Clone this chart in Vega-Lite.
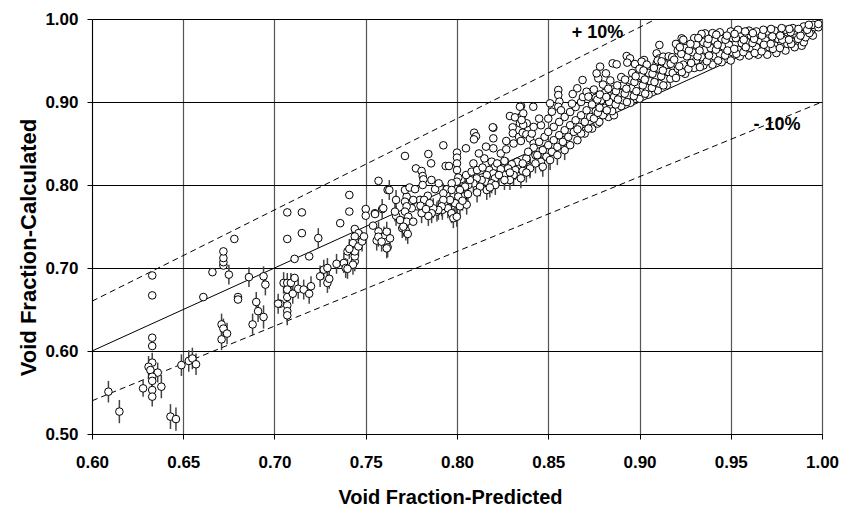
{
"$schema": "https://vega.github.io/schema/vega-lite/v6.json",
"width": 730, "height": 415,
"autosize": {"type": "none"},
"padding": {"left": 92, "top": 19, "right": 20, "bottom": 72},
"background": "white",
"config": {"view": {"stroke": null}, "font": "Liberation Sans"},
"datasets": {
"lines": [
{"g":"eq","x":0.6,"y":0.6},{"g":"eq","x":1.0,"y":1.0},
{"g":"up","x":0.6,"y":0.66},{"g":"up","x":0.9091,"y":1.0},
{"g":"dn","x":0.6,"y":0.54},{"g":"dn","x":1.0,"y":0.9}
],
"labels": [
{"x":0.877,"y":0.983,"t":"+ 10%"},
{"x":0.9753,"y":0.8723,"t":"- 10%"}
],
"pts": [
{"x":0.609,"y":0.551,"e":0.013},{"x":0.615,"y":0.527,"e":0.014},{"x":0.633,"y":0.691,"e":0},{"x":0.633,"y":0.667,"e":0},
{"x":0.633,"y":0.616,"e":0},{"x":0.633,"y":0.606,"e":0},{"x":0.633,"y":0.586,"e":0.012},{"x":0.631,"y":0.581,"e":0.013},
{"x":0.632,"y":0.577,"e":0.012},{"x":0.636,"y":0.574,"e":0.012},{"x":0.633,"y":0.569,"e":0.012},{"x":0.633,"y":0.564,"e":0.012},
{"x":0.633,"y":0.553,"e":0.012},{"x":0.633,"y":0.545,"e":0.012},{"x":0.628,"y":0.555,"e":0.01},{"x":0.638,"y":0.557,"e":0.014},
{"x":0.643,"y":0.521,"e":0.015},{"x":0.646,"y":0.518,"e":0.014},{"x":0.649,"y":0.583,"e":0.013},{"x":0.653,"y":0.588,"e":0.013},
{"x":0.655,"y":0.591,"e":0.013},{"x":0.657,"y":0.584,"e":0.013},{"x":0.661,"y":0.665,"e":0},{"x":0.666,"y":0.695,"e":0},
{"x":0.672,"y":0.703,"e":0},{"x":0.672,"y":0.707,"e":0},{"x":0.672,"y":0.712,"e":0},{"x":0.672,"y":0.72,"e":0},
{"x":0.675,"y":0.692,"e":0.012},{"x":0.68,"y":0.665,"e":0},{"x":0.68,"y":0.662,"e":0},{"x":0.671,"y":0.632,"e":0.013},
{"x":0.672,"y":0.627,"e":0.012},{"x":0.671,"y":0.614,"e":0.013},{"x":0.674,"y":0.621,"e":0.013},{"x":0.686,"y":0.689,"e":0.012},
{"x":0.694,"y":0.69,"e":0.012},{"x":0.695,"y":0.68,"e":0.013},{"x":0.69,"y":0.659,"e":0.012},{"x":0.691,"y":0.648,"e":0.013},
{"x":0.688,"y":0.632,"e":0.013},{"x":0.694,"y":0.641,"e":0.014},{"x":0.703,"y":0.657,"e":0},{"x":0.705,"y":0.682,"e":0.013},
{"x":0.707,"y":0.682,"e":0.012},{"x":0.709,"y":0.682,"e":0.012},{"x":0.707,"y":0.665,"e":0.012},{"x":0.707,"y":0.655,"e":0.012},
{"x":0.707,"y":0.648,"e":0.012},{"x":0.707,"y":0.643,"e":0.012},{"x":0.707,"y":0.674,"e":0.012},{"x":0.711,"y":0.688,"e":0},
{"x":0.71,"y":0.669,"e":0.012},{"x":0.713,"y":0.675,"e":0.012},{"x":0.716,"y":0.674,"e":0.012},{"x":0.719,"y":0.669,"e":0.012},
{"x":0.72,"y":0.678,"e":0.012},{"x":0.711,"y":0.711,"e":0},{"x":0.719,"y":0.714,"e":0},{"x":0.725,"y":0.69,"e":0.013},
{"x":0.727,"y":0.698,"e":0.012},{"x":0.729,"y":0.682,"e":0.012},{"x":0.729,"y":0.7,"e":0.012},{"x":0.73,"y":0.687,"e":0.012},
{"x":0.734,"y":0.705,"e":0.012},{"x":0.738,"y":0.706,"e":0.012},{"x":0.739,"y":0.7,"e":0.012},{"x":0.74,"y":0.72,"e":0},
{"x":0.744,"y":0.708,"e":0.012},{"x":0.744,"y":0.714,"e":0},{"x":0.744,"y":0.72,"e":0},{"x":0.743,"y":0.704,"e":0.012},
{"x":0.678,"y":0.735,"e":0},{"x":0.707,"y":0.767,"e":0},{"x":0.715,"y":0.767,"e":0},{"x":0.707,"y":0.735,"e":0},
{"x":0.715,"y":0.742,"e":0},{"x":0.724,"y":0.736,"e":0.012},{"x":0.741,"y":0.788,"e":0},{"x":0.741,"y":0.768,"e":0},
{"x":0.736,"y":0.754,"e":0},{"x":0.75,"y":0.771,"e":0},{"x":0.75,"y":0.763,"e":0},{"x":0.757,"y":0.805,"e":0},
{"x":0.762,"y":0.794,"e":0},{"x":0.755,"y":0.766,"e":0},{"x":0.759,"y":0.771,"e":0.012},{"x":0.754,"y":0.751,"e":0},
{"x":0.744,"y":0.747,"e":0},{"x":0.746,"y":0.742,"e":0},{"x":0.744,"y":0.738,"e":0},{"x":0.743,"y":0.73,"e":0.012},
{"x":0.741,"y":0.723,"e":0.012},{"x":0.746,"y":0.726,"e":0.012},{"x":0.748,"y":0.732,"e":0.012},{"x":0.749,"y":0.738,"e":0},
{"x":0.74,"y":0.699,"e":0.012},{"x":0.702,"y":0.657,"e":0.012},{"x":0.757,"y":0.744,"e":0.012},{"x":0.76,"y":0.738,"e":0.012},
{"x":0.761,"y":0.731,"e":0.012},{"x":0.756,"y":0.733,"e":0.012},{"x":0.762,"y":0.725,"e":0.012},{"x":0.7569,"y":0.7377,"e":0.012},
{"x":0.7587,"y":0.7317,"e":0.012},{"x":0.7615,"y":0.7237,"e":0.012},{"x":0.7615,"y":0.7438,"e":0.012},{"x":0.7633,"y":0.7357,"e":0.012},
{"x":0.7551,"y":0.765,"e":0},{"x":0.7666,"y":0.763,"e":0.012},{"x":0.7629,"y":0.794,"e":0.012},{"x":0.7666,"y":0.782,"e":0.012},
{"x":0.77,"y":0.748,"e":0.012},{"x":0.772,"y":0.745,"e":0.012},{"x":0.773,"y":0.741,"e":0.012},{"x":0.785,"y":0.772,"e":0.012},
{"x":0.789,"y":0.768,"e":0.012},{"x":0.792,"y":0.77,"e":0.012},{"x":0.795,"y":0.772,"e":0.012},{"x":0.797,"y":0.766,"e":0.012},
{"x":0.798,"y":0.76,"e":0.012},
{"x":0.7925,"y":0.8478,"e":0},{"x":0.8049,"y":0.8442,"e":0},{"x":0.7843,"y":0.8373,"e":0},{"x":0.7858,"y":0.8261,"e":0},
{"x":0.7715,"y":0.835,"e":0},{"x":0.7938,"y":0.8229,"e":0},{"x":0.7956,"y":0.8229,"e":0},{"x":0.7775,"y":0.82,"e":0},
{"x":0.7806,"y":0.8169,"e":0},{"x":0.7812,"y":0.8108,"e":0},{"x":0.7816,"y":0.8068,"e":0},{"x":0.7812,"y":0.8,"e":0},
{"x":0.8,"y":0.839,"e":0},{"x":0.8,"y":0.833,"e":0},{"x":0.8,"y":0.826,"e":0},{"x":0.8,"y":0.818,"e":0},
{"x":0.8007,"y":0.809,"e":0},
{"x":0.8159,"y":0.8253,"e":0},{"x":0.819,"y":0.8281,"e":0},{"x":0.8208,"y":0.822,"e":0},{"x":0.8177,"y":0.818,"e":0},
{"x":0.8199,"y":0.814,"e":0},{"x":0.8163,"y":0.812,"e":0},{"x":0.8208,"y":0.808,"e":0.012},{"x":0.8159,"y":0.804,"e":0.012},
{"x":0.819,"y":0.802,"e":0.012},{"x":0.8135,"y":0.806,"e":0},{"x":0.8126,"y":0.798,"e":0.012},{"x":0.8163,"y":0.794,"e":0.012},
{"x":0.8108,"y":0.808,"e":0},{"x":0.809,"y":0.802,"e":0.012},{"x":0.8062,"y":0.8,"e":0.012},{"x":0.8071,"y":0.806,"e":0},
{"x":0.8044,"y":0.798,"e":0.012},{"x":0.8016,"y":0.794,"e":0.012},{"x":0.8035,"y":0.786,"e":0.012},{"x":0.8007,"y":0.786,"e":0.012},
{"x":0.7999,"y":0.804,"e":0},{"x":0.7971,"y":0.802,"e":0},{"x":0.7944,"y":0.7948,"e":0},{"x":0.7925,"y":0.79,"e":0.012},
{"x":0.7971,"y":0.794,"e":0},{"x":0.7989,"y":0.778,"e":0.012},{"x":0.8016,"y":0.7743,"e":0.012},{"x":0.8053,"y":0.7763,"e":0.012},
{"x":0.7962,"y":0.782,"e":0.012},{"x":0.7925,"y":0.782,"e":0.012},{"x":0.7916,"y":0.7743,"e":0.012},{"x":0.7898,"y":0.7699,"e":0.012},
{"x":0.787,"y":0.772,"e":0.012},{"x":0.7861,"y":0.766,"e":0.012},{"x":0.7843,"y":0.7627,"e":0.012},{"x":0.7806,"y":0.766,"e":0.012},
{"x":0.7782,"y":0.7743,"e":0},{"x":0.7797,"y":0.782,"e":0},{"x":0.776,"y":0.782,"e":0},{"x":0.7752,"y":0.772,"e":0},
{"x":0.7724,"y":0.786,"e":0},{"x":0.7715,"y":0.7799,"e":0},{"x":0.7724,"y":0.7743,"e":0},{"x":0.7715,"y":0.7679,"e":0},
{"x":0.7733,"y":0.7618,"e":0.012},{"x":0.7724,"y":0.7558,"e":0.012},{"x":0.7706,"y":0.7498,"e":0.012},{"x":0.7688,"y":0.7578,"e":0},
{"x":0.766,"y":0.7679,"e":0.012},{"x":0.7596,"y":0.772,"e":0},{"x":0.776,"y":0.7558,"e":0},{"x":0.7999,"y":0.7618,"e":0.012},
{"x":0.7715,"y":0.794,"e":0},{"x":0.774,"y":0.797,"e":0},{"x":0.777,"y":0.795,"e":0},{"x":0.784,"y":0.787,"e":0},
{"x":0.782,"y":0.782,"e":0},{"x":0.785,"y":0.778,"e":0.012},{"x":0.78,"y":0.775,"e":0.012},{"x":0.783,"y":0.771,"e":0.012},
{"x":0.788,"y":0.795,"e":0},{"x":0.79,"y":0.802,"e":0},{"x":0.786,"y":0.806,"e":0},
{"x":0.8351,"y":0.8952,"e":0},{"x":0.829,"y":0.8831,"e":0},{"x":0.8318,"y":0.8815,"e":0},{"x":0.8355,"y":0.8831,"e":0},
{"x":0.8382,"y":0.8743,"e":0},{"x":0.8345,"y":0.8743,"e":0},{"x":0.8199,"y":0.869,"e":0},{"x":0.8199,"y":0.8562,"e":0},
{"x":0.8094,"y":0.863,"e":0},{"x":0.8104,"y":0.8587,"e":0},{"x":0.8093,"y":0.855,"e":0},{"x":0.8159,"y":0.8462,"e":0},
{"x":0.8199,"y":0.8442,"e":0},{"x":0.8418,"y":0.8943,"e":0},{"x":0.8363,"y":0.8723,"e":0},{"x":0.8305,"y":0.8695,"e":0},
{"x":0.8306,"y":0.8623,"e":0},{"x":0.8196,"y":0.8695,"e":0},
{"x":0.827,"y":0.853,"e":0},{"x":0.831,"y":0.85,"e":0},{"x":0.834,"y":0.858,"e":0},{"x":0.835,"y":0.853,"e":0},
{"x":0.836,"y":0.863,"e":0},{"x":0.838,"y":0.861,"e":0},{"x":0.84,"y":0.856,"e":0},{"x":0.842,"y":0.85,"e":0},
{"x":0.843,"y":0.836,"e":0},{"x":0.838,"y":0.832,"e":0},{"x":0.833,"y":0.828,"e":0},{"x":0.83,"y":0.825,"e":0},
{"x":0.828,"y":0.82,"e":0.012},{"x":0.832,"y":0.818,"e":0.012},{"x":0.836,"y":0.817,"e":0.012},{"x":0.84,"y":0.822,"e":0.012},
{"x":0.831,"y":0.812,"e":0.012},{"x":0.826,"y":0.812,"e":0.012},{"x":0.835,"y":0.808,"e":0.012},{"x":0.829,"y":0.806,"e":0.012},
{"x":0.805,"y":0.812,"e":0},{"x":0.808,"y":0.816,"e":0},{"x":0.811,"y":0.818,"e":0},{"x":0.814,"y":0.821,"e":0},
{"x":0.822,"y":0.826,"e":0},{"x":0.824,"y":0.819,"e":0},{"x":0.826,"y":0.829,"e":0},{"x":0.823,"y":0.812,"e":0.012},
{"x":0.826,"y":0.806,"e":0.012},{"x":0.821,"y":0.8,"e":0.012},{"x":0.818,"y":0.797,"e":0.012},{"x":0.811,"y":0.791,"e":0.012},
{"x":0.806,"y":0.789,"e":0.012},{"x":0.803,"y":0.781,"e":0.012},{"x":0.829,"y":0.815,"e":0},{"x":0.815,"y":0.832,"e":0},
{"x":0.809,"y":0.826,"e":0},{"x":0.812,"y":0.838,"e":0},{"x":0.824,"y":0.838,"e":0},{"x":0.827,"y":0.843,"e":0},
{"x":0.851,"y":0.8984,"e":0},{"x":0.852,"y":0.8883,"e":0},{"x":0.8555,"y":0.9145,"e":0},{"x":0.8555,"y":0.9084,"e":0},
{"x":0.8561,"y":0.9004,"e":0},{"x":0.8555,"y":0.8943,"e":0},{"x":0.8345,"y":0.8943,"e":0},{"x":0.8363,"y":0.8863,"e":0},
{"x":0.8354,"y":0.8783,"e":0},
{"x":0.842,"y":0.845,"e":0},{"x":0.845,"y":0.852,"e":0},{"x":0.848,"y":0.858,"e":0},{"x":0.85,"y":0.864,"e":0},
{"x":0.853,"y":0.87,"e":0},{"x":0.856,"y":0.876,"e":0},{"x":0.859,"y":0.882,"e":0},{"x":0.862,"y":0.888,"e":0},
{"x":0.865,"y":0.894,"e":0},{"x":0.868,"y":0.9,"e":0},{"x":0.844,"y":0.836,"e":0},{"x":0.847,"y":0.842,"e":0},
{"x":0.85,"y":0.848,"e":0},{"x":0.853,"y":0.854,"e":0},{"x":0.856,"y":0.86,"e":0},{"x":0.859,"y":0.866,"e":0},
{"x":0.862,"y":0.872,"e":0},{"x":0.865,"y":0.878,"e":0},{"x":0.868,"y":0.884,"e":0},{"x":0.871,"y":0.89,"e":0},
{"x":0.846,"y":0.828,"e":0.012},{"x":0.849,"y":0.834,"e":0},{"x":0.852,"y":0.84,"e":0},{"x":0.855,"y":0.846,"e":0},
{"x":0.858,"y":0.852,"e":0},{"x":0.861,"y":0.858,"e":0},{"x":0.864,"y":0.864,"e":0},{"x":0.867,"y":0.87,"e":0},
{"x":0.87,"y":0.876,"e":0},{"x":0.873,"y":0.882,"e":0},{"x":0.843,"y":0.826,"e":0.012},{"x":0.847,"y":0.822,"e":0.012},
{"x":0.851,"y":0.83,"e":0.012},{"x":0.855,"y":0.836,"e":0.012},{"x":0.859,"y":0.842,"e":0.012},{"x":0.862,"y":0.848,"e":0},
{"x":0.866,"y":0.854,"e":0},{"x":0.87,"y":0.862,"e":0},{"x":0.874,"y":0.868,"e":0},{"x":0.877,"y":0.874,"e":0},
{"x":0.841,"y":0.862,"e":0},{"x":0.846,"y":0.872,"e":0},{"x":0.85,"y":0.88,"e":0},{"x":0.857,"y":0.89,"e":0},
{"x":0.863,"y":0.898,"e":0},{"x":0.869,"y":0.906,"e":0},{"x":0.874,"y":0.912,"e":0},{"x":0.84,"y":0.82,"e":0.012},
{"x":0.838,"y":0.815,"e":0.012},{"x":0.836,"y":0.826,"e":0},{"x":0.839,"y":0.84,"e":0},{"x":0.842,"y":0.87,"e":0},
{"x":0.845,"y":0.88,"e":0},
{"x":0.872,"y":0.868,"e":0},{"x":0.878,"y":0.876,"e":0},{"x":0.883,"y":0.882,"e":0},{"x":0.868,"y":0.862,"e":0},
{"x":0.881,"y":0.887,"e":0},{"x":0.866,"y":0.867,"e":0},{"x":0.886,"y":0.884,"e":0},
{"x":0.8659,"y":0.9165,"e":0},{"x":0.8634,"y":0.9096,"e":0},{"x":0.871,"y":0.9124,"e":0},{"x":0.872,"y":0.9064,"e":0},
{"x":0.8688,"y":0.9265,"e":0},{"x":0.8816,"y":0.9345,"e":0},{"x":0.8774,"y":0.9285,"e":0},{"x":0.8765,"y":0.9345,"e":0},
{"x":0.8784,"y":0.9426,"e":0},{"x":0.8853,"y":0.9466,"e":0},{"x":0.8875,"y":0.9454,"e":0},{"x":0.893,"y":0.9554,"e":0},
{"x":0.8948,"y":0.9526,"e":0},{"x":0.8933,"y":0.9474,"e":0},{"x":0.8975,"y":0.9458,"e":0},{"x":0.9025,"y":0.9506,"e":0},
{"x":0.9109,"y":0.9687,"e":0},{"x":0.9094,"y":0.9586,"e":0},{"x":0.9109,"y":0.9526,"e":0},{"x":0.913,"y":0.9546,"e":0},
{"x":0.9094,"y":0.9466,"e":0},{"x":0.9122,"y":0.9426,"e":0},{"x":0.9149,"y":0.9446,"e":0},{"x":0.9012,"y":0.9486,"e":0},
{"x":0.9231,"y":0.9767,"e":0},{"x":0.9359,"y":0.9827,"e":0},{"x":0.9889,"y":0.9678,"e":0},
{"x":0.875,"y":0.88,"e":0},{"x":0.876,"y":0.889,"e":0},{"x":0.874,"y":0.897,"e":0},{"x":0.876,"y":0.905,"e":0},{"x":0.875,"y":0.915,"e":0},
{"x":0.88,"y":0.884,"e":0},{"x":0.881,"y":0.893,"e":0},{"x":0.879,"y":0.902,"e":0},{"x":0.881,"y":0.911,"e":0},{"x":0.88,"y":0.921,"e":0},
{"x":0.885,"y":0.889,"e":0},{"x":0.884,"y":0.897,"e":0},{"x":0.886,"y":0.906,"e":0},{"x":0.885,"y":0.915,"e":0},{"x":0.884,"y":0.926,"e":0},
{"x":0.89,"y":0.895,"e":0},{"x":0.891,"y":0.902,"e":0},{"x":0.889,"y":0.911,"e":0},{"x":0.891,"y":0.92,"e":0},{"x":0.89,"y":0.93,"e":0},
{"x":0.895,"y":0.899,"e":0},{"x":0.894,"y":0.908,"e":0},{"x":0.896,"y":0.917,"e":0},{"x":0.895,"y":0.926,"e":0},{"x":0.896,"y":0.935,"e":0},
{"x":0.9,"y":0.904,"e":0},{"x":0.901,"y":0.912,"e":0},{"x":0.899,"y":0.921,"e":0},{"x":0.901,"y":0.931,"e":0},{"x":0.9,"y":0.94,"e":0},
{"x":0.905,"y":0.909,"e":0},{"x":0.904,"y":0.917,"e":0},{"x":0.906,"y":0.925,"e":0},{"x":0.905,"y":0.935,"e":0},{"x":0.904,"y":0.945,"e":0},
{"x":0.91,"y":0.914,"e":0},{"x":0.911,"y":0.922,"e":0},{"x":0.909,"y":0.931,"e":0},{"x":0.911,"y":0.94,"e":0},{"x":0.91,"y":0.95,"e":0},
{"x":0.915,"y":0.92,"e":0},{"x":0.914,"y":0.928,"e":0},{"x":0.916,"y":0.936,"e":0},{"x":0.915,"y":0.945,"e":0},{"x":0.916,"y":0.955,"e":0},
{"x":0.8772,"y":0.887,"e":0},{"x":0.8781,"y":0.893,"e":0},{"x":0.8769,"y":0.903,"e":0},{"x":0.8783,"y":0.909,"e":0},
{"x":0.8821,"y":0.89,"e":0},{"x":0.8834,"y":0.9,"e":0},{"x":0.8818,"y":0.906,"e":0},{"x":0.8829,"y":0.916,"e":0},
{"x":0.8869,"y":0.897,"e":0},{"x":0.8882,"y":0.903,"e":0},{"x":0.8871,"y":0.913,"e":0},{"x":0.8878,"y":0.92,"e":0},
{"x":0.8931,"y":0.9,"e":0},{"x":0.8919,"y":0.91,"e":0},{"x":0.8928,"y":0.916,"e":0},{"x":0.8921,"y":0.927,"e":0},
{"x":0.8969,"y":0.907,"e":0},{"x":0.8983,"y":0.913,"e":0},{"x":0.8972,"y":0.924,"e":0},{"x":0.8979,"y":0.931,"e":0},
{"x":0.9031,"y":0.91,"e":0},{"x":0.9018,"y":0.92,"e":0},{"x":0.9029,"y":0.927,"e":0},{"x":0.9022,"y":0.938,"e":0},
{"x":0.9068,"y":0.917,"e":0},{"x":0.9082,"y":0.924,"e":0},{"x":0.9071,"y":0.934,"e":0},{"x":0.9079,"y":0.941,"e":0},
{"x":0.9131,"y":0.92,"e":0},{"x":0.9119,"y":0.931,"e":0},{"x":0.9128,"y":0.938,"e":0},{"x":0.9121,"y":0.949,"e":0},
{"x":0.9169,"y":0.928,"e":0},{"x":0.9182,"y":0.935,"e":0},{"x":0.9171,"y":0.946,"e":0},{"x":0.9179,"y":0.954,"e":0},
{"x":0.92,"y":0.929,"e":0},{"x":0.921,"y":0.94,"e":0},{"x":0.919,"y":0.951,"e":0},{"x":0.921,"y":0.962,"e":0},{"x":0.92,"y":0.97,"e":0},
{"x":0.925,"y":0.934,"e":0},{"x":0.924,"y":0.945,"e":0},{"x":0.926,"y":0.955,"e":0},{"x":0.925,"y":0.965,"e":0},{"x":0.924,"y":0.975,"e":0},
{"x":0.93,"y":0.941,"e":0},{"x":0.931,"y":0.95,"e":0},{"x":0.929,"y":0.96,"e":0},{"x":0.931,"y":0.969,"e":0},{"x":0.93,"y":0.977,"e":0},
{"x":0.935,"y":0.944,"e":0},{"x":0.934,"y":0.954,"e":0},{"x":0.936,"y":0.963,"e":0},{"x":0.935,"y":0.972,"e":0},{"x":0.934,"y":0.982,"e":0},
{"x":0.94,"y":0.945,"e":0},{"x":0.941,"y":0.955,"e":0},{"x":0.939,"y":0.965,"e":0},{"x":0.941,"y":0.974,"e":0},{"x":0.94,"y":0.983,"e":0},
{"x":0.945,"y":0.948,"e":0},{"x":0.944,"y":0.958,"e":0},{"x":0.946,"y":0.967,"e":0},{"x":0.945,"y":0.976,"e":0},{"x":0.944,"y":0.984,"e":0},
{"x":0.95,"y":0.95,"e":0},{"x":0.951,"y":0.96,"e":0},{"x":0.949,"y":0.969,"e":0},{"x":0.951,"y":0.977,"e":0},{"x":0.95,"y":0.985,"e":0},
{"x":0.955,"y":0.955,"e":0},{"x":0.954,"y":0.963,"e":0},{"x":0.956,"y":0.971,"e":0},{"x":0.955,"y":0.979,"e":0},{"x":0.954,"y":0.987,"e":0},
{"x":0.96,"y":0.956,"e":0},{"x":0.961,"y":0.965,"e":0},{"x":0.959,"y":0.972,"e":0},{"x":0.961,"y":0.98,"e":0},{"x":0.96,"y":0.986,"e":0},
{"x":0.965,"y":0.957,"e":0},{"x":0.964,"y":0.966,"e":0},{"x":0.966,"y":0.974,"e":0},{"x":0.965,"y":0.981,"e":0},{"x":0.964,"y":0.985,"e":0},
{"x":0.97,"y":0.957,"e":0},{"x":0.971,"y":0.966,"e":0},{"x":0.969,"y":0.975,"e":0},{"x":0.971,"y":0.982,"e":0},{"x":0.97,"y":0.985,"e":0},
{"x":0.975,"y":0.959,"e":0},{"x":0.974,"y":0.968,"e":0},{"x":0.976,"y":0.976,"e":0},{"x":0.975,"y":0.983,"e":0},{"x":0.974,"y":0.986,"e":0},
{"x":0.98,"y":0.962,"e":0},{"x":0.981,"y":0.97,"e":0},{"x":0.979,"y":0.977,"e":0},{"x":0.981,"y":0.984,"e":0},{"x":0.98,"y":0.987,"e":0},
{"x":0.985,"y":0.966,"e":0},{"x":0.984,"y":0.973,"e":0},{"x":0.986,"y":0.98,"e":0},{"x":0.985,"y":0.986,"e":0},{"x":0.984,"y":0.989,"e":0},
{"x":0.99,"y":0.972,"e":0},{"x":0.991,"y":0.978,"e":0},{"x":0.989,"y":0.984,"e":0},{"x":0.991,"y":0.989,"e":0},{"x":0.99,"y":0.991,"e":0},
{"x":0.995,"y":0.98,"e":0},{"x":0.994,"y":0.986,"e":0},{"x":0.996,"y":0.99,"e":0},{"x":0.995,"y":0.993,"e":0},
{"x":0.998,"y":0.99,"e":0},{"x":0.998,"y":0.994,"e":0},
{"x":0.9232,"y":0.936,"e":0},{"x":0.9218,"y":0.943,"e":0},{"x":0.9229,"y":0.958,"e":0},{"x":0.9221,"y":0.966,"e":0},
{"x":0.9268,"y":0.94,"e":0},{"x":0.9283,"y":0.947,"e":0},{"x":0.9271,"y":0.962,"e":0},{"x":0.9279,"y":0.97,"e":0},
{"x":0.9331,"y":0.942,"e":0},{"x":0.9318,"y":0.955,"e":0},{"x":0.9329,"y":0.962,"e":0},{"x":0.9322,"y":0.977,"e":0},
{"x":0.9369,"y":0.949,"e":0},{"x":0.9381,"y":0.956,"e":0},{"x":0.9372,"y":0.97,"e":0},{"x":0.9378,"y":0.976,"e":0},
{"x":0.9431,"y":0.95,"e":0},{"x":0.9419,"y":0.963,"e":0},{"x":0.9428,"y":0.969,"e":0},{"x":0.9421,"y":0.981,"e":0},
{"x":0.9469,"y":0.956,"e":0},{"x":0.9482,"y":0.962,"e":0},{"x":0.9471,"y":0.975,"e":0},{"x":0.9479,"y":0.98,"e":0},
{"x":0.9531,"y":0.958,"e":0},{"x":0.9519,"y":0.964,"e":0},{"x":0.9528,"y":0.977,"e":0},{"x":0.9521,"y":0.982,"e":0},
{"x":0.9569,"y":0.96,"e":0},{"x":0.9582,"y":0.966,"e":0},{"x":0.9571,"y":0.975,"e":0},{"x":0.9579,"y":0.985,"e":0},
{"x":0.9631,"y":0.959,"e":0},{"x":0.9619,"y":0.971,"e":0},{"x":0.9628,"y":0.976,"e":0},{"x":0.9621,"y":0.983,"e":0},
{"x":0.9669,"y":0.961,"e":0},{"x":0.9682,"y":0.969,"e":0},{"x":0.9671,"y":0.98,"e":0},{"x":0.9679,"y":0.987,"e":0},
{"x":0.9731,"y":0.964,"e":0},{"x":0.9719,"y":0.97,"e":0},{"x":0.9728,"y":0.979,"e":0},{"x":0.9721,"y":0.988,"e":0},
{"x":0.9769,"y":0.965,"e":0},{"x":0.9782,"y":0.975,"e":0},{"x":0.9771,"y":0.98,"e":0},{"x":0.9779,"y":0.989,"e":0},
{"x":0.9831,"y":0.97,"e":0},{"x":0.9819,"y":0.975,"e":0},{"x":0.9828,"y":0.984,"e":0},{"x":0.9821,"y":0.988,"e":0},
{"x":0.9869,"y":0.976,"e":0},{"x":0.9882,"y":0.98,"e":0},{"x":0.9871,"y":0.988,"e":0},
{"x":0.9931,"y":0.983,"e":0},{"x":0.9919,"y":0.987,"e":0},{"x":0.9928,"y":0.993,"e":0}
]
},
"encoding": {
"x": {"field": "x", "type": "quantitative",
 "scale": {"domain": [0.6, 1.0], "nice": false, "zero": false},
 "axis": {"values": [0.6,0.65,0.7,0.75,0.8,0.85,0.9,0.95,1.0], "format": ".2f",
  "title": "Void Fraction-Predicted", "titleFont": "Liberation Sans", "titleFontSize": 20, "titleFontWeight": "bold", "titleColor": "black",
  "titleX": 358, "titleY": 69, "titleBaseline": "alphabetic", "titleAlign": "center", "titleAnchor": null,
  "labelFont": "Liberation Sans", "labelFontSize": 17, "labelFontWeight": "bold", "labelColor": "black", "labelPadding": 15,
  "labelFlush": false, "labelOverlap": false,
  "tickSize": 5, "tickColor": "black", "domainColor": "black", "domainWidth": 1,
  "grid": true, "gridColor": "#555555", "gridWidth": 1.2, "gridOpacity": 1}},
"y": {"field": "y", "type": "quantitative",
 "scale": {"domain": [0.5, 1.0], "nice": false, "zero": false},
 "axis": {"values": [0.5,0.6,0.7,0.8,0.9,1.0], "format": ".2f",
  "title": "Void Fraction-Calculated", "titleFont": "Liberation Sans", "titleFontSize": 22, "titleFontWeight": "bold", "titleColor": "black",
  "titleX": -57, "titleY": 228, "titleAngle": -90, "titleBaseline": "alphabetic", "titleAlign": "center", "titleAnchor": null,
  "labelFont": "Liberation Sans", "labelFontSize": 17, "labelFontWeight": "bold", "labelColor": "black", "labelPadding": 9,
  "labelFlush": false, "labelOverlap": false,
  "tickSize": 5, "tickColor": "black", "domainColor": "black", "domainWidth": 1,
  "grid": true, "gridColor": "black", "gridWidth": 1, "gridOpacity": 1}}
},
"layer": [
{"data": {"name": "lines"}, "transform": [{"filter": "datum.g == 'eq'"}],
 "mark": {"type": "line", "color": "black", "strokeWidth": 1, "clip": true}},
{"data": {"name": "lines"}, "transform": [{"filter": "datum.g != 'eq'"}],
 "mark": {"type": "line", "color": "black", "strokeWidth": 1, "strokeDash": [6, 4], "clip": true},
 "encoding": {"detail": {"field": "g"}}},
{"data": {"name": "pts"}, "transform": [{"filter": "datum.e > 0"}],
 "mark": {"type": "errorbar", "color": "#444444", "thickness": 1.5},
 "encoding": {"yError": {"field": "e"}}},
{"data": {"name": "pts"},
 "mark": {"type": "point", "shape": "circle", "filled": true, "fill": "white", "stroke": "black", "strokeWidth": 1, "opacity": 1, "size": 58}},
{"data": {"name": "labels"},
 "mark": {"type": "text", "font": "Liberation Sans", "fontSize": 18, "fontWeight": "bold", "color": "black", "align": "center", "baseline": "middle"},
 "encoding": {"text": {"field": "t"}}}
]
}
